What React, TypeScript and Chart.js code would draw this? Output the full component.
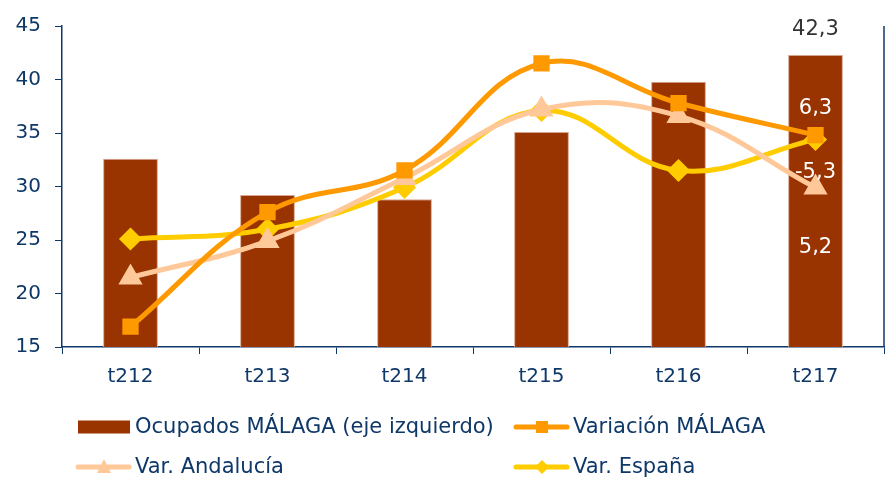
import React, { useEffect, useRef } from "react";
import { Chart, registerables } from "chart.js";

Chart.register(...registerables);

const categories = ["t212", "t213", "t214", "t215", "t216", "t217"];
const ocupadosMalaga = [32.6, 29.2, 28.8, 35.1, 39.8, 42.3];
const variacionMalaga = [16.9, 27.6, 31.5, 41.5, 37.8, 34.8];
const varAndalucia = [21.5, 24.9, 30.8, 37.2, 36.6, 29.9];
const varEspana = [25.1, 26.0, 29.9, 37.1, 31.5, 34.4];
const yTicks = [15, 20, 25, 30, 35, 40, 45];
const lastBarLabel = "42,3";
const sideLabels = ["6,3", "-5,3", "5,2"];
const sideLabelLevels = [37.3, 31.3, 24.3];

const NAVY = "#0e3868";
const FONT = "'DejaVu Sans', Verdana, sans-serif";

const annotate = {
  id: "annotate",
  afterDatasetsDraw(chart: any) {
    const ctx = chart.ctx;
    const x = chart.scales.x;
    const y = chart.scales.y;
    const area = chart.chartArea;
    const last = categories.length - 1;
    const cx = x.getPixelForValue(last);
    ctx.save();
    ctx.strokeStyle = NAVY;
    ctx.lineWidth = 1.5;
    ctx.beginPath();
    ctx.moveTo(area.right, area.top);
    ctx.lineTo(area.right, area.bottom);
    ctx.stroke();
    ctx.font = `21px ${FONT}`;
    ctx.textAlign = "center";
    ctx.textBaseline = "middle";
    ctx.fillStyle = "#333333";
    ctx.fillText(lastBarLabel, cx, y.getPixelForValue(ocupadosMalaga[last]) - 25);
    ctx.fillStyle = "#ffffff";
    sideLabels.forEach((t, i) => {
      ctx.fillText(t, cx, y.getPixelForValue(sideLabelLevels[i]));
    });
    ctx.restore();
  },
  afterDraw(chart: any) {
    const ctx = chart.ctx;
    const ds = chart.data.datasets;
    const cols = [76, 514];
    const rows = [427, 467];
    ctx.save();
    ctx.font = `21px ${FONT}`;
    ctx.textBaseline = "middle";
    ctx.textAlign = "left";
    ds.forEach((d: any, i: number) => {
      const col = cols[i % 2];
      const row = rows[Math.floor(i / 2)];
      if (d.type === "bar") {
        ctx.fillStyle = d.backgroundColor;
        ctx.fillRect(col + 2, row - 6.5, 52, 13);
      } else {
        ctx.strokeStyle = d.borderColor;
        ctx.lineWidth = 5;
        ctx.lineCap = "round";
        ctx.beginPath();
        ctx.moveTo(col + 2, row);
        ctx.lineTo(col + 53, row);
        ctx.stroke();
        ctx.fillStyle = d.pointBackgroundColor;
        const m = col + 28;
        ctx.beginPath();
        if (d.pointStyle === "rect") {
          ctx.rect(m - 6, row - 6, 12, 12);
        } else if (d.pointStyle === "triangle") {
          ctx.moveTo(m, row - 8);
          ctx.lineTo(m + 7, row + 6);
          ctx.lineTo(m - 7, row + 6);
          ctx.closePath();
        } else {
          ctx.moveTo(m, row - 7);
          ctx.lineTo(m + 7, row);
          ctx.lineTo(m, row + 7);
          ctx.lineTo(m - 7, row);
          ctx.closePath();
        }
        ctx.fill();
      }
      ctx.fillStyle = NAVY;
      ctx.fillText(d.label, col + 59, row + 1);
    });
    ctx.restore();
  },
};

export default function App() {
  const ref = useRef<HTMLCanvasElement>(null);
  useEffect(() => {
    document.body.style.margin = "0";
    const lineDs = (label: string, data: number[], color: string, style: string, r: number) => ({
      type: "line" as const,
      label,
      data,
      borderColor: color,
      backgroundColor: color,
      pointBackgroundColor: color,
      pointBorderColor: color,
      pointStyle: style,
      pointRadius: r,
      borderWidth: 5,
      tension: 0.4,
      order: 1,
    });
    const chart = new Chart(ref.current!, {
      data: {
        labels: categories,
        datasets: [
          {
            type: "bar",
            label: "Ocupados MÁLAGA (eje izquierdo)",
            data: ocupadosMalaga,
            backgroundColor: "#993300",
            borderColor: "#d9a58f",
            borderWidth: 1,
            barPercentage: 0.4,
            categoryPercentage: 1,
            order: 2,
          },
          lineDs("Variación MÁLAGA", variacionMalaga, "#ff9900", "rect", 8),
          lineDs("Var. Andalucía", varAndalucia, "#ffc899", "triangle", 9),
          lineDs("Var. España", varEspana, "#ffcc00", "rectRot", 8),
        ] as any,
      },
      options: {
        animation: false,
        responsive: false,
        layout: { autoPadding: false, padding: { top: 23, right: 1, bottom: 83, left: 0 } },
        plugins: { legend: { display: false }, tooltip: { enabled: false } },
        scales: {
          x: {
            offset: true,
            grid: {
              offset: true,
              drawOnChartArea: false,
              drawTicks: true,
              tickLength: 7,
              color: NAVY,
            },
            border: { color: NAVY, width: 1.5 },
            ticks: { color: NAVY, font: { size: 20, family: FONT }, padding: 11 },
            afterFit: (s: any) => {
              s.height = 50;
              s.paddingLeft = 0;
              s.paddingRight = 0;
            },
          },
          y: {
            min: 15,
            max: 45,
            afterBuildTicks: (s: any) => {
              s.ticks = yTicks.map((v) => ({ value: v }));
            },
            grid: { drawOnChartArea: false, tickLength: 7, color: NAVY },
            border: { color: NAVY, width: 1.5 },
            ticks: { color: NAVY, font: { size: 20, family: FONT }, padding: 14 },
            afterFit: (s: any) => {
              s.width = 62;
            },
          },
        },
      },
      plugins: [annotate],
    });
    return () => chart.destroy();
  }, []);
  return <canvas ref={ref} width={885} height={480} style={{ display: "block" }} />;
}
